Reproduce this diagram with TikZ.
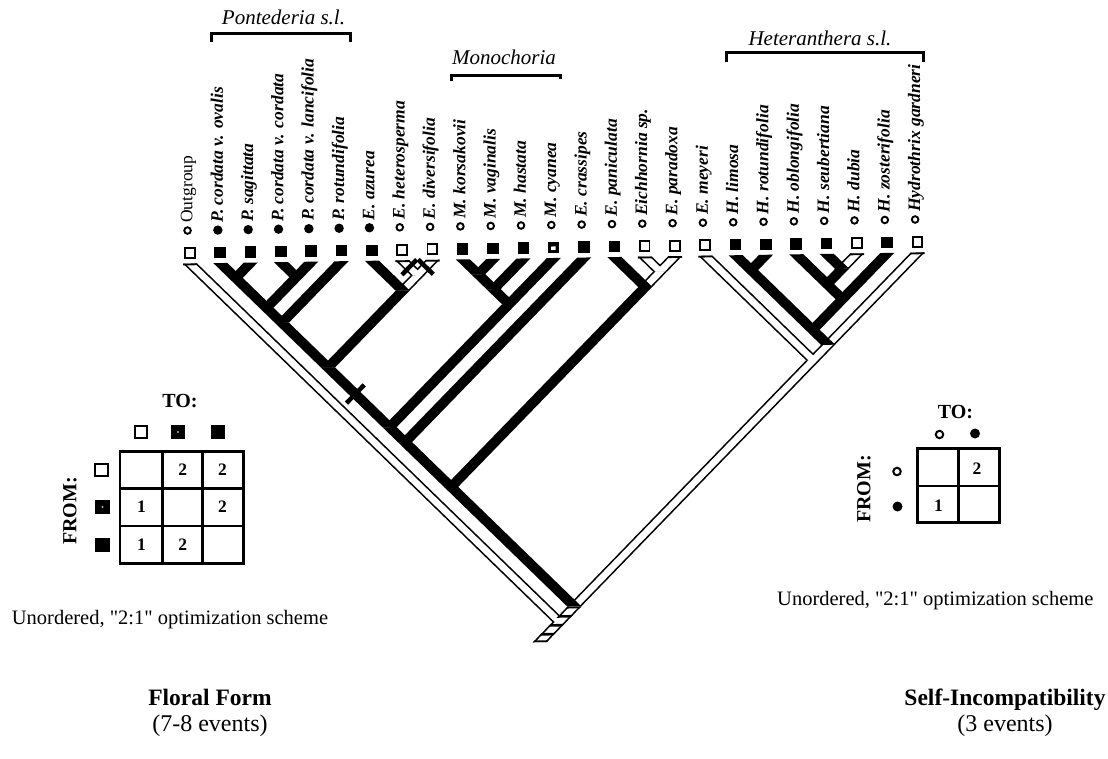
\documentclass[tikz,border=0pt]{standalone}
\usepackage{fontspec}
\setmainfont{Liberation Serif}
\newfontfamily\plainquotes{Liberation Serif}[Ligatures=TeXOff]
\newcommand\bandpath[5]{({190+15.16*(#2+#3)-#1},{258+15.16*(#3-#2)}) -- ({190+15.16*(#2+#3)+#1},{258+15.16*(#3-#2)}) -- ({190+15.16*(#4+#5)+#1},{258+15.16*(#5-#4)}) -- ({190+15.16*(#4+#5)-#1},{258+15.16*(#5-#4)}) -- cycle}
\newcommand\brBlack[4]{\fill[black] \bandpath{7}{#1}{#2}{#3}{#4};}
\newcommand\brWOut[4]{\fill[black] \bandpath{7}{#1}{#2}{#3}{#4};}
\newcommand\brWIn[4]{\fill[white] \bandpath{4.7}{#1}{#2}{#3}{#4};}
\newcommand\brWTop[1]{\fill[black] ({190+30.32*#1-7},258) rectangle ({190+30.32*#1+7},259.8);}
\tikzset{
  sqopen/.style={rectangle, draw=black, fill=white, line width=1.9pt, minimum size=9.8pt, inner sep=0pt},
  sqfull/.style={rectangle, fill=black, minimum size=11.5pt, inner sep=0pt},
  ciopen/.style={circle, draw=black, fill=white, line width=1.9pt, minimum size=6.6pt, inner sep=0pt},
  cifull/.style={circle, fill=black, minimum size=9.4pt, inner sep=0pt},
  tiplab/.style={rotate=90, anchor=base west, inner sep=0pt, font=\fontsize{17.5}{19}\selectfont\bfseries\itshape},
  grouplab/.style={anchor=base, inner sep=0pt, font=\fontsize{21}{24}\selectfont\itshape},
  bracketline/.style={line width=3pt},
  tickmark/.style={line width=4.5pt},
  hsqopen/.style={rectangle, draw=black, fill=white, line width=2pt, minimum size=12.5pt, inner sep=0pt},
  hsqfull/.style={rectangle, fill=black, minimum size=14.5pt, inner sep=0pt},
  hciopen/.style={circle, draw=black, fill=white, line width=2pt, minimum size=7.5pt, inner sep=0pt},
  hcifull/.style={circle, fill=black, minimum size=10pt, inner sep=0pt},
  gridline/.style={line width=2.6pt},
  num/.style={font=\bfseries\fontsize{17.5}{20}\selectfont, inner sep=0pt},
  headlab/.style={font=\bfseries\fontsize{20}{22}\selectfont, inner sep=0pt},
  notetext/.style={anchor=base west, inner sep=0pt, font=\plainquotes\fontsize{20.5}{23}\selectfont},
  titlebold/.style={anchor=base, inner sep=0pt, font=\bfseries\fontsize{23.5}{26}\selectfont},
  titlereg/.style={anchor=base, inner sep=0pt, font=\fontsize{24}{27}\selectfont},
}
\begin{document}
\begin{tikzpicture}[x=1pt,y=-1pt]
\useasboundingbox (0,0) rectangle (1108,758);
\fill[white] (0,0) rectangle (1108,758);

\begin{scope}[rotate around={0.87:(553,258)}]
% white branch outlines
\brWOut{0}{0}{0}{24}
\brWOut{7}{7}{7}{8}
\brWOut{8}{8}{7}{8}
\brWOut{7}{8}{6}{8}
\brWOut{15}{15}{15}{16}
\brWOut{16}{16}{15}{16}
\brWOut{15}{16}{14}{16}
\brWOut{17}{17}{17}{24}
\brWOut{22}{22}{21}{22}
\brWOut{24}{24}{18}{24}
\brWOut{18}{24}{17}{24}
\brWOut{17}{24}{1}{24}
\fill[black] (562,606.92) -- (576,606.92) -- (541,641.92) -- (527,641.92) -- cycle;
% white branch interiors
\brWIn{0}{0}{0}{24}
\brWIn{7}{7}{7}{8}
\brWIn{8}{8}{7}{8}
\brWIn{7}{8}{6}{8}
\brWIn{15}{15}{15}{16}
\brWIn{16}{16}{15}{16}
\brWIn{15}{16}{14}{16}
\brWIn{17}{17}{17}{24}
\brWIn{22}{22}{21}{22}
\brWIn{24}{24}{18}{24}
\brWIn{18}{24}{17}{24}
\brWIn{17}{24}{1}{24}
\fill[white] (564.3,606.92) -- (573.7,606.92) -- (538.7,641.92) -- (529.3,641.92) -- cycle;
% hatched stem bars
\begin{scope}
\clip (562,606.92) -- (576,606.92) -- (541,641.92) -- (527,641.92) -- cycle;
\foreach \a/\b in {606.92/608.7, 615.2/617.8, 624/626.6, 632.8/635.4, 640.1/641.92}
  \fill[black] (515,\a) rectangle (590,\b);
\end{scope}
% black branches
\brBlack{1}{1}{1}{2}
\brBlack{2}{2}{1}{2}
\brBlack{3}{3}{3}{4}
\brBlack{4}{4}{3}{4}
\brBlack{1}{2}{1}{4}
\brBlack{3}{4}{1}{4}
\brBlack{1}{4}{1}{5}
\brBlack{5}{5}{1}{5}
\brBlack{1}{5}{1}{8}
\brBlack{6}{6}{6}{8}
\brBlack{6}{8}{1}{8}
\brBlack{1}{8}{1}{12}
\brBlack{9}{9}{9}{10}
\brBlack{10}{10}{9}{10}
\brBlack{9}{10}{9}{11}
\brBlack{11}{11}{9}{11}
\brBlack{9}{11}{9}{12}
\brBlack{12}{12}{9}{12}
\brBlack{9}{12}{1}{12}
\brBlack{1}{12}{1}{13}
\brBlack{13}{13}{1}{13}
\brBlack{1}{13}{1}{16}
\brBlack{14}{14}{14}{16}
\brBlack{14}{16}{1}{16}
\brBlack{1}{16}{1}{24}
\brBlack{18}{18}{18}{19}
\brBlack{19}{19}{18}{19}
\brBlack{18}{19}{18}{23}
\brBlack{20}{20}{20}{22}
\brBlack{21}{21}{21}{22}
\brBlack{21}{22}{20}{22}
\brBlack{20}{22}{20}{23}
\brBlack{23}{23}{20}{23}
\brBlack{20}{23}{18}{23}
\brBlack{18}{23}{18}{24}
% closed tops of white tip branches
\foreach \i in {0,7,8,15,16,17,22,24} {\brWTop{\i}}
% change marks
\draw[tickmark] (401.7,272.5) -- (416.7,257.5);
\draw[tickmark] (418.1,257.5) -- (433.1,272.5);
\draw[tickmark] (344.3,400) -- (362.3,382);
% tip states and labels
\foreach \i/\sq/\ci/\lab in {
 0/sqopen/ciopen/{\mdseries\upshape Outgroup},
 1/sqfull/cifull/{P. cordata v. ovalis},
 2/sqfull/cifull/{P. sagittata},
 3/sqfull/cifull/{P. cordata v. cordata},
 4/sqfull/cifull/{P. cordata v. lancifolia},
 5/sqfull/cifull/{P. rotundifolia},
 6/sqfull/cifull/{E. azurea},
 7/sqopen/ciopen/{E. heterosperma},
 8/sqopen/ciopen/{E. diversifolia},
 9/sqfull/ciopen/{M. korsakovii},
 10/sqfull/ciopen/{M. vaginalis},
 11/sqfull/ciopen/{M. hastata},
 12/sqfull/ciopen/{M. cyanea},
 13/sqfull/ciopen/{E. crassipes},
 14/sqfull/ciopen/{E. paniculata},
 15/sqopen/ciopen/{Eichhornia sp.},
 16/sqopen/ciopen/{E. paradoxa},
 17/sqopen/ciopen/{E. meyeri},
 18/sqfull/ciopen/{H. limosa},
 19/sqfull/ciopen/{H. rotundifolia},
 20/sqfull/ciopen/{H. oblongifolia},
 21/sqfull/ciopen/{H. seubertiana},
 22/sqopen/ciopen/{H. dubia},
 23/sqfull/ciopen/{H. zosterifolia},
 24/sqopen/ciopen/{Hydrothrix gardneri}}{
  \node[\sq] (sq\i) at ({190+30.32*\i},247.5) {};
  \node[\ci] (ci\i) at ({190+30.32*\i-2},225) {};
  \node[tiplab] (lab\i) at ({190+30.32*\i+3},217.5) {\lab};
}
\fill[white] (sq12.center) ++(-2.5,-1) rectangle ++(4.5,3.5);
\end{scope}

% group brackets
\node[grouplab] (gPont) at (283.5,24) {Pontederia s.l.};
\draw[bracketline] (211.7,42) -- (211.7,33.5) -- (350,33.5) -- (350,42);
\node[grouplab] (gMono) at (504,64) {Monochoria};
\draw[bracketline] (451.7,81) -- (451.7,75.5) -- (560,75.5) -- (560,79);
\node[grouplab] (gHet) at (820,45) {Heteranthera s.l.};
\draw[bracketline] (726.7,62) -- (726.7,52.5) -- (923,52.5) -- (923,62);

% left step matrix (floral form)
\node[headlab, anchor=base] (toL) at (180,407) {TO:};
\node[hsqopen] (cL1) at (141,432) {};
\node[hsqfull] (cL2) at (178,432) {};
\fill[gray!60] (cL2.center) circle (1.2);
\node[hsqfull] (cL3) at (218,432) {};
\node[hsqopen] (rL1) at (101.5,470) {};
\node[hsqfull] (rL2) at (102.5,507) {};
\fill[gray!60] (rL2.center) circle (1.2);
\node[hsqfull] (rL3) at (102.5,545) {};
\node[headlab, rotate=90] (fromL) at (70,511) {FROM:};
\draw[gridline] (120,451.7) rectangle (243.3,563.3);
\draw[gridline] (162.7,451.7) -- (162.7,563.3) (202.7,451.7) -- (202.7,563.3)
                (120,488.3) -- (243.3,488.3) (120,526) -- (243.3,526);
\node[num] (mL12) at (182.7,470) {2};
\node[num] (mL13) at (222.5,470) {2};
\node[num] (mL21) at (141.5,507) {1};
\node[num] (mL23) at (222.5,507) {2};
\node[num] (mL31) at (141.5,544.5) {1};
\node[num] (mL32) at (182.7,544.5) {2};
\node[notetext] (noteL) at (11.7,624) {Unordered, "2:1" optimization scheme};

% right step matrix (self-incompatibility)
\node[headlab, anchor=base] (toR) at (955.5,418) {TO:};
\node[hciopen] (cR1) at (939.5,434.5) {};
\node[hcifull] (cR2) at (975,433.5) {};
\node[hciopen] (rR1) at (897,471.5) {};
\node[hcifull] (rR2) at (897.5,506.5) {};
\node[headlab, rotate=90] (fromR) at (864,489) {FROM:};
\draw[gridline] (917.3,448.3) rectangle (999.3,522.7);
\draw[gridline] (958.3,448.3) -- (958.3,522.7) (917.3,486) -- (999.3,486);
\node[num] (mR12) at (977,469) {2};
\node[num] (mR21) at (938.5,506) {1};
\node[notetext] (noteR) at (777,605.5) {Unordered, "2:1" optimization scheme};

% titles
\node[titlebold] (tFloral) at (210,705) {Floral Form};
\node[titlereg] (tFloralN) at (210,731) {(7-8 events)};
\node[titlebold] (tSelf) at (1005,705) {Self-Incompatibility};
\node[titlereg] (tSelfN) at (1005,731) {(3 events)};
\end{tikzpicture}
\end{document}
